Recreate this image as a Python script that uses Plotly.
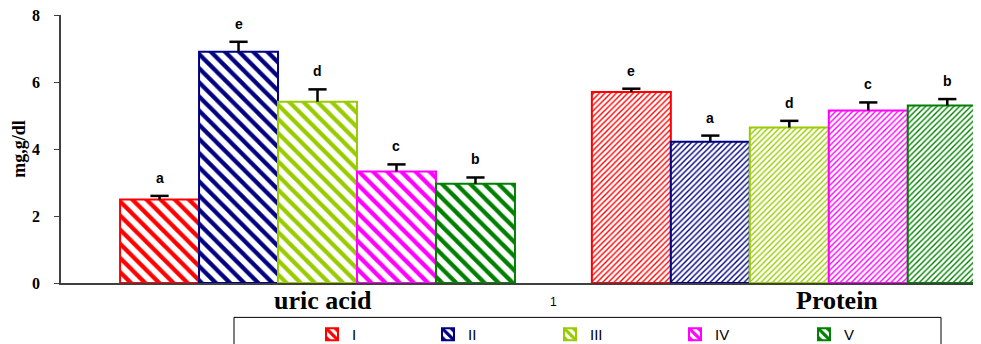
import plotly.graph_objects as go

# ---- data ----
groups = ["uric acid", "Protein"]
series_names = ["I", "II", "III", "IV", "V"]
uric_vals = [2.49, 6.90, 5.41, 3.33, 2.96]
uric_err = [0.11, 0.30, 0.37, 0.21, 0.19]
protein_vals = [5.70, 4.22, 4.64, 5.15, 5.30]
protein_err = [0.10, 0.18, 0.20, 0.24, 0.19]
uric_letters = ["a", "e", "d", "c", "b"]
protein_letters = ["e", "a", "d", "c", "b"]
y_ticks = [0, 2, 4, 6, 8]

# ---- style / layout (page body adds an 8px offset) ----
colors = ["#FF0000", "#000080", "#99CC00", "#FF00FF", "#008000"]
OFF = 8
W, H = 981 - OFF, 344 - OFF
ML, MR, MT = 61 - OFF, 0, 15.3 - OFF
MB = H - (282.7 - OFF)
BARGAP = 0.163
n = len(series_names)
bar_w = (1 - BARGAP) / n
legend_swatch_px = [337, 453, 575, 700, 829]

serif = "Liberation Serif, Times New Roman, serif"
sans = "Liberation Sans, Arial, sans-serif"
plot_w = W - ML - MR
plot_h = H - MT - MB
gx = list(range(len(groups)))


def px_x(p):
    return (p - OFF - ML) / plot_w


def px_y(p):
    return (MT + plot_h - (p - OFF)) / plot_h


fig = go.Figure()
for k, name in enumerate(series_names):
    vals = [uric_vals[k], protein_vals[k]]
    errs = [uric_err[k], protein_err[k]]
    fig.add_trace(go.Bar(
        name=name,
        x=gx,
        y=vals,
        marker=dict(
            color="white",
            line=dict(color=colors[k], width=2),
            pattern=dict(shape=["\\", "/"], fgcolor=colors[k], bgcolor="white",
                         size=[10, 4], solidity=[0.42, 0.35], fgopacity=1,
                         fillmode="overlay"),
        ),
        error_y=dict(type="data", array=errs, arrayminus=[0, 0], symmetric=False,
                     color="black", thickness=2.5, width=0),
        legend="legend" if k == 0 else f"legend{k + 1}",
        showlegend=True,
    ))

# caps of the error bars (only the upper "T")
cap_x, cap_y = [], []
annotations = []
for gi, (vals, errs, letters) in enumerate([(uric_vals, uric_err, uric_letters),
                                             (protein_vals, protein_err, protein_letters)]):
    for k in range(n):
        xc = gi + (k - (n - 1) / 2) * bar_w
        cap_x.append(xc)
        cap_y.append(vals[k] + errs[k])
        annotations.append(dict(
            x=xc, y=vals[k] + errs[k], xref="x", yref="y", text=letters[k],
            showarrow=False, yanchor="bottom", yshift=8,
            font=dict(family=sans, size=14, color="black", weight="bold"),
        ))
fig.add_trace(go.Scatter(
    x=cap_x, y=cap_y, mode="markers", showlegend=False, hoverinfo="skip",
    marker=dict(symbol="line-ew", size=13, line=dict(color="black", width=2.5)),
))

# category labels
for gi, (g, xs) in enumerate(zip(groups, [5, 48])):
    annotations.append(dict(
        x=gi, y=px_y(300), xref="x", yref="paper", text=g,
        showarrow=False, xshift=xs, yanchor="middle",
        font=dict(family=serif, size=26, color="black", weight="bold"),
    ))

annotations.append(dict(
    x=px_x(553), y=px_y(311), xref="paper", yref="paper",
    text="1", showarrow=False, font=dict(family=sans, size=12, color="black"),
))

# legend box
shapes = [dict(type="rect", xref="paper", yref="paper",
               x0=px_x(234), x1=px_x(941), y0=px_y(360), y1=px_y(317),
               line=dict(color="black", width=1), fillcolor="rgba(0,0,0,0)")]

legends = {}
for k in range(n):
    key = "legend" if k == 0 else f"legend{k + 1}"
    legends[key] = dict(
        x=px_x(legend_swatch_px[k] - 25), xanchor="left",
        y=px_y(334), yanchor="middle",
        bgcolor="rgba(0,0,0,0)", borderwidth=0,
        font=dict(family=sans, size=15, color="black"),
        orientation="h",
    )

fig.update_layout(
    width=W, height=H, autosize=False,
    margin=dict(l=ML, r=MR, t=MT, b=MB, autoexpand=False),
    paper_bgcolor="white", plot_bgcolor="white",
    barmode="group", bargap=BARGAP, bargroupgap=0,
    xaxis=dict(range=[-0.5437, 1.4063], showticklabels=False, ticks="",
               showline=True, linecolor="#404040", linewidth=1.5, showgrid=False,
               zeroline=False, automargin=False),
    yaxis=dict(range=[0, 8], tickvals=y_ticks, ticks="outside", ticklen=5,
               tickcolor="#404040", showline=True, linecolor="#404040", linewidth=1.5,
               showgrid=False, zeroline=False, automargin=False, ticklabelstandoff=11,
               ticklabeloverflow="allow",
               tickfont=dict(family=serif, size=16, color="black", weight="bold"),
               title=dict(text="mg,g/dl", standoff=2,
                          font=dict(family=serif, size=18, color="black", weight="bold"))),
    annotations=annotations,
    shapes=shapes,
    **legends,
)

fig.write_html("out.html")
